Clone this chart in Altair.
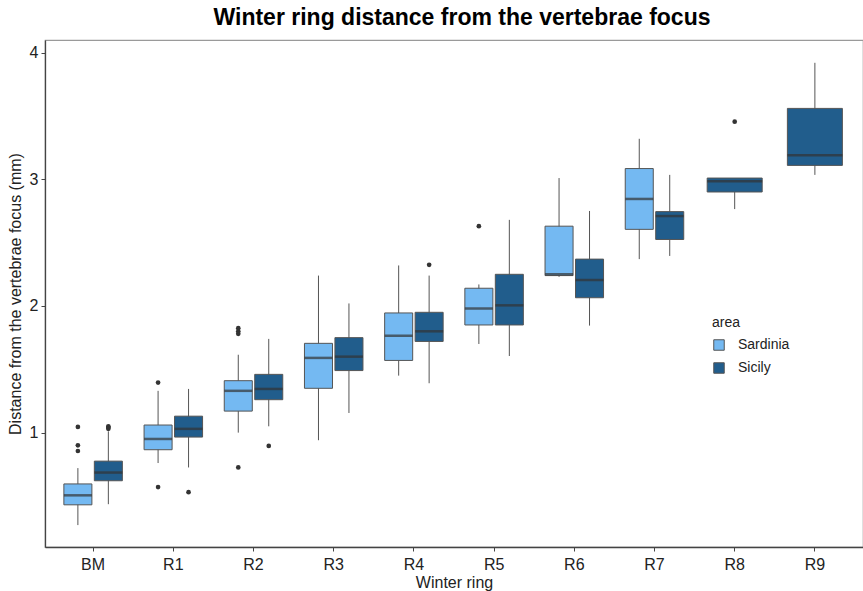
import altair as alt
import pandas as pd

# Winter rings measured in both areas
rings = ["BM", "R1", "R2", "R3", "R4", "R5", "R6", "R7", "R8", "R9"]
paired_rings = ["BM", "R1", "R2", "R3", "R4", "R5", "R6", "R7"]
areas = ["Sardinia", "Sicily"]

# Box statistics (mm): lower whisker, Q1, median, Q3, upper whisker
sard_lo = [0.27, 0.76, 1.00, 0.94, 1.45, 1.70, 2.23, 2.37]
sard_q1 = [0.43, 0.865, 1.17, 1.35, 1.57, 1.85, 2.24, 2.605]
sard_med = [0.505, 0.95, 1.33, 1.59, 1.765, 1.98, 2.25, 2.845]
sard_q3 = [0.595, 1.06, 1.41, 1.705, 1.945, 2.14, 2.63, 3.085]
sard_hi = [0.72, 1.33, 1.615, 2.24, 2.32, 2.17, 3.01, 3.32]

sic_lo = [0.435, 0.725, 1.05, 1.155, 1.39, 1.605, 1.845, 2.395]
sic_q1 = [0.62, 0.965, 1.26, 1.49, 1.72, 1.85, 2.065, 2.525]
sic_med = [0.685, 1.03, 1.345, 1.60, 1.80, 2.005, 2.205, 2.71]
sic_q3 = [0.775, 1.13, 1.46, 1.75, 1.95, 2.25, 2.37, 2.745]
sic_hi = [1.01, 1.345, 1.74, 2.02, 2.24, 2.68, 2.75, 3.035]

# Older rings only present in Sicily
solo_rings = ["R8", "R9"]
solo_lo = [2.765, 3.035]
solo_q1 = [2.90, 3.11]
solo_med = [2.985, 3.19]
solo_q3 = [3.01, 3.56]
solo_hi = [3.01, 3.92]

# Outlying measurements
out_ring = ["BM", "BM", "BM", "R1", "R1", "R2", "R2", "R2", "R2", "R5",
            "BM", "BM", "BM", "R1", "R2", "R4"]
out_area = ["Sardinia"] * 10 + ["Sicily"] * 6
out_val = [1.045, 0.90, 0.855, 1.395, 0.57, 1.825, 1.80, 1.78, 0.725, 2.63,
           1.03, 1.04, 1.05, 0.53, 0.895, 2.325]
solo_out_ring = ["R8"]
solo_out_val = [3.455]

paired = pd.DataFrame({
    "ring": paired_rings * 2,
    "area": ["Sardinia"] * len(paired_rings) + ["Sicily"] * len(paired_rings),
    "lo": sard_lo + sic_lo,
    "q1": sard_q1 + sic_q1,
    "med": sard_med + sic_med,
    "q3": sard_q3 + sic_q3,
    "hi": sard_hi + sic_hi,
})
solo = pd.DataFrame({
    "ring": solo_rings, "area": ["Sicily"] * len(solo_rings),
    "lo": solo_lo, "q1": solo_q1, "med": solo_med, "q3": solo_q3, "hi": solo_hi,
})
outs = pd.DataFrame({"ring": out_ring, "area": out_area, "val": out_val})
solo_outs = pd.DataFrame({"ring": solo_out_ring, "val": solo_out_val})

FONT = "Liberation Sans"
EDGE = "#555555"

x = alt.X("ring:N", sort=rings, title="Winter ring",
          scale=alt.Scale(domain=rings, paddingInner=0, paddingOuter=0.1))
xoff = alt.XOffset("area:N", sort=areas,
                   scale=alt.Scale(domain=areas, paddingInner=0.08, paddingOuter=0.356))
yscale = alt.Scale(domain=[0.097, 4.10], nice=False, zero=False)
y_axis = alt.Axis(values=[1, 2, 3, 4], format="d")
fill = alt.Fill("area:N", title="area",
                scale=alt.Scale(domain=areas, range=["#74b9f2", "#215d8c"]),
                legend=alt.Legend(orient="none", legendX=667, legendY=276,
                                  symbolType="square", symbolSize=110,
                                  symbolStrokeColor=EDGE, symbolStrokeWidth=1,
                                  titleFontSize=14, titleFontWeight="normal",
                                  labelFontSize=14, rowPadding=7, titlePadding=8,
                                  labelOffset=12,
                                  titleFont=FONT, labelFont=FONT,
                                  labelColor="#222", titleColor="#222"))

base_p = alt.Chart(paired)
base_s = alt.Chart(solo)

whisk_p = base_p.mark_rule(color=EDGE, strokeWidth=1).encode(
    x=x, xOffset=xoff,
    y=alt.Y("lo:Q", scale=yscale, axis=y_axis,
            title="Distance from the vertebrae focus (mm)"),
    y2="hi:Q")
box_p = base_p.mark_bar(stroke=EDGE, strokeWidth=1).encode(
    x=x, xOffset=xoff, y=alt.Y("q1:Q", scale=yscale), y2="q3:Q", fill=fill)
med_p = base_p.mark_tick(color="#333333", thickness=2.5, size=28, orient="horizontal").encode(
    x=x, xOffset=xoff, y=alt.Y("med:Q", scale=yscale))
out_p = alt.Chart(outs).mark_circle(size=22, color="#333333", opacity=1).encode(
    x=x, xOffset=xoff, y=alt.Y("val:Q", scale=yscale))

whisk_s = base_s.mark_rule(color=EDGE, strokeWidth=1).encode(
    x=x, y=alt.Y("lo:Q", scale=yscale), y2="hi:Q")
box_s = base_s.mark_bar(stroke=EDGE, strokeWidth=1, width=55).encode(
    x=x, y=alt.Y("q1:Q", scale=yscale), y2="q3:Q", fill=fill)
med_s = base_s.mark_tick(color="#333333", thickness=2.5, size=55, orient="horizontal").encode(
    x=x, y=alt.Y("med:Q", scale=yscale))
out_s = alt.Chart(solo_outs).mark_circle(size=22, color="#333333", opacity=1).encode(
    x=x, y=alt.Y("val:Q", scale=yscale))

chart = alt.layer(
    whisk_p, box_p, med_p, out_p, whisk_s, box_s, med_s, out_s
).properties(
    width=818, height=507,
    autosize=alt.AutoSizeParams(type="none"),
    padding={"left": 45, "top": 40, "right": 0, "bottom": 44},
    title=alt.TitleParams("Winter ring distance from the vertebrae focus",
                          font=FONT, fontSize=23, fontWeight="bold", color="#000",
                          anchor="middle", offset=10, dx=8),
).configure_view(
    stroke="#9a9a9a", strokeWidth=1.2
).configure_axis(
    grid=False, domainColor="#444444", domainWidth=1.3,
    tickColor="#444444", tickSize=4, tickWidth=1,
    labelFont=FONT, labelFontSize=16, labelColor="#222",
    titleFont=FONT, titleFontSize=16, titleFontWeight="normal", titleColor="#222",
).configure_axisX(
    labelPadding=5, titlePadding=2, labelAngle=0
).configure_axisY(
    labelPadding=3, titlePadding=6
)

chart.save("out.html", embed_options={"renderer": "svg", "actions": False})
